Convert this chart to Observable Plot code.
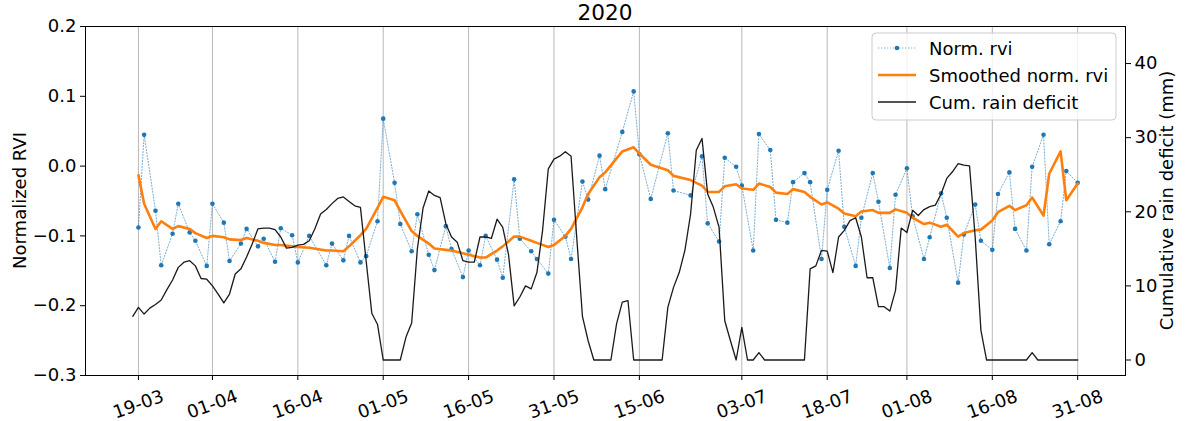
<!DOCTYPE html>
<html><head><meta charset="utf-8">
<script src="https://cdn.jsdelivr.net/npm/d3@7"></script>
<script src="https://cdn.jsdelivr.net/npm/@observablehq/plot@0.6"></script>
<style>body{margin:0;background:#fff;} svg{font-family:"DejaVu Sans",sans-serif;}</style>
</head><body><div id="chart"></div>
<script>
const title = "2020";
const yLabel = "Normalized RVI";
const y2Label = "Cumulative rain deficit (mm)";
const seriesNames = ["Norm. rvi", "Smoothed norm. rvi", "Cum. rain deficit"];
const seriesColors = ["#1f77b4", "#ff7f0e", "#1a1a1a"];

const rviDates = [
"2020-03-19","2020-03-20","2020-03-22","2020-03-23","2020-03-25","2020-03-26","2020-03-28","2020-03-29","2020-03-31","2020-04-01",
"2020-04-03","2020-04-04","2020-04-06","2020-04-07","2020-04-09","2020-04-10","2020-04-12","2020-04-13","2020-04-15","2020-04-16",
"2020-04-18","2020-04-21","2020-04-22","2020-04-24","2020-04-25","2020-04-27","2020-04-28","2020-04-30","2020-05-01","2020-05-03",
"2020-05-04","2020-05-06","2020-05-07","2020-05-09","2020-05-10","2020-05-12","2020-05-13","2020-05-15","2020-05-16","2020-05-18",
"2020-05-19","2020-05-21","2020-05-22","2020-05-24","2020-05-25","2020-05-27","2020-05-28","2020-05-30","2020-05-31","2020-06-02",
"2020-06-03","2020-06-05","2020-06-06","2020-06-08","2020-06-09","2020-06-12","2020-06-14","2020-06-15","2020-06-17","2020-06-20",
"2020-06-21","2020-06-24","2020-06-26","2020-06-27","2020-06-29","2020-06-30","2020-07-02","2020-07-03","2020-07-05","2020-07-06",
"2020-07-08","2020-07-09","2020-07-11","2020-07-12","2020-07-14","2020-07-15","2020-07-17","2020-07-18","2020-07-20","2020-07-21",
"2020-07-23","2020-07-24","2020-07-26","2020-07-27","2020-07-29","2020-07-30","2020-08-01","2020-08-02","2020-08-04","2020-08-05",
"2020-08-07","2020-08-08","2020-08-10","2020-08-11","2020-08-13","2020-08-14","2020-08-16","2020-08-17","2020-08-19","2020-08-20",
"2020-08-22","2020-08-23","2020-08-25","2020-08-26","2020-08-28","2020-08-29","2020-08-31"];

const rviValues = [
-0.088,0.045,-0.064,-0.142,-0.097,-0.054,-0.095,-0.107,-0.143,-0.054,
-0.081,-0.136,-0.111,-0.090,-0.115,-0.104,-0.137,-0.089,-0.099,-0.138,
-0.100,-0.142,-0.111,-0.135,-0.100,-0.138,-0.129,-0.079,0.068,-0.024,
-0.083,-0.122,-0.069,-0.127,-0.149,-0.086,-0.119,-0.159,-0.121,-0.142,
-0.100,-0.134,-0.160,-0.019,-0.104,-0.122,-0.133,-0.154,-0.077,-0.101,
-0.133,-0.022,-0.048,0.015,-0.033,0.049,0.107,0.017,-0.047,0.047,
-0.035,-0.042,0.014,-0.082,-0.108,0.012,-0.001,-0.028,-0.121,0.046,
0.023,-0.077,-0.081,-0.023,-0.010,-0.023,-0.133,-0.034,0.022,-0.087,
-0.143,-0.074,-0.010,-0.051,-0.146,-0.041,-0.003,-0.072,-0.133,-0.102,
-0.039,-0.074,-0.167,-0.098,-0.055,-0.107,-0.120,-0.040,-0.009,-0.090,
-0.121,-0.001,0.045,-0.112,-0.079,-0.007,-0.024];

const smoothValues = [
-0.013,-0.054,-0.090,-0.079,-0.090,-0.086,-0.090,-0.096,-0.103,-0.100,
-0.102,-0.105,-0.106,-0.103,-0.107,-0.110,-0.113,-0.113,-0.115,-0.116,
-0.117,-0.121,-0.121,-0.122,-0.115,-0.099,-0.090,-0.060,-0.044,-0.049,
-0.064,-0.093,-0.100,-0.111,-0.118,-0.120,-0.121,-0.125,-0.127,-0.131,
-0.131,-0.121,-0.115,-0.101,-0.101,-0.107,-0.110,-0.116,-0.113,-0.100,
-0.090,-0.059,-0.040,-0.016,-0.009,0.021,0.027,0.018,0.002,-0.006,
-0.014,-0.020,-0.028,-0.037,-0.037,-0.029,-0.026,-0.032,-0.034,-0.025,
-0.030,-0.038,-0.040,-0.033,-0.037,-0.044,-0.055,-0.052,-0.061,-0.068,
-0.072,-0.065,-0.063,-0.067,-0.067,-0.062,-0.067,-0.074,-0.083,-0.081,
-0.087,-0.084,-0.101,-0.096,-0.092,-0.091,-0.078,-0.066,-0.057,-0.063,
-0.056,-0.045,-0.071,-0.011,0.021,-0.049,-0.025];

// daily cumulative rain deficit (mm), from 2020-03-18 to 2020-08-31
const rainStart = "2020-03-18";
const rainValues = [
5.9,7.1,6.2,7.0,7.5,8.1,9.5,10.8,12.5,13.2,
13.4,12.7,11.0,10.9,10.0,8.9,7.7,8.9,11.6,12.3,
13.9,15.7,17.7,17.8,17.8,17.6,16.6,15.1,15.2,15.5,
15.6,16.1,17.7,19.7,20.3,21.1,21.8,22.0,21.4,20.8,
20.6,13.4,6.3,4.8,0,0,0,0,3.1,5.0,
15.0,20.5,22.8,22.2,21.9,18.4,16.6,15.9,13.4,13.2,
13.2,16.6,16.6,16.4,19.0,17.9,14.3,7.3,8.5,10.0,
9.6,11.8,17.5,25.8,27.1,27.5,28.1,27.5,16.5,5.9,
2.6,0,0,0,0,4.9,7.8,8.0,0,0,
0,0,0,0,7.1,9.8,11.8,14.8,19.7,28.3,
29.9,22.4,20.6,17.9,5.3,2.6,0,4.4,0,0,
1.0,0,0,0,0,0,0,0,0,12.3,
12.7,14.8,14.7,11.8,16.6,17.5,18.8,19.2,16.6,11.1,
11.1,7.2,7.2,6.6,9.4,17.8,17.2,20.2,19.5,20.3,
20.7,20.9,22.4,24.5,25.4,26.5,26.3,26.2,16.5,4.0,
0,0,0,0,0,0,0,0,1.0,0,
0,0,0,0,0,0,0];

const tickDates = ["2020-03-19","2020-04-01","2020-04-16","2020-05-01","2020-05-16","2020-05-31",
                   "2020-06-15","2020-07-03","2020-07-18","2020-08-01","2020-08-16","2020-08-31"];
const leftTicks = [-0.3, -0.2, -0.1, 0.0, 0.1, 0.2];
const rainTicks = [0, 10, 20, 30, 40];

const parse = d3.utcParse("%Y-%m-%d");
const rvi = rviDates.map((d, i) => ({date: parse(d), value: rviValues[i], smooth: smoothValues[i]}));
const rain = rainValues.map((v, i) => ({date: d3.utcDay.offset(parse(rainStart), i), mm: v}));
const ticks = tickDates.map(parse);
const base = parse("2020-03-19");
const DAY = 864e5;
const xDomain = [new Date(+base - 9.3 * DAY), new Date(+base + 173.4 * DAY)];
const rainToY = d3.scaleLinear().domain([-2.09, 45.0]).range([-0.3, 0.2]);

const W = 1185, H = 421, ML = 85, MR = 60, MT = 26, MB = 46;
const chart = Plot.plot({
  width: W, height: H, marginLeft: ML, marginRight: MR, marginTop: MT, marginBottom: MB,
  style: {fontFamily: "DejaVu Sans, sans-serif", fontSize: "18px", background: "white", color: "black", overflow: "visible"},
  x: {type: "utc", domain: xDomain},
  y: {domain: [-0.3, 0.2]},
  marks: [
    Plot.gridX(ticks, {stroke: "#b8b8b8", strokeOpacity: 1, strokeWidth: 1}),
    Plot.lineY(rvi, {x: "date", y: "value", stroke: seriesColors[0], strokeWidth: 1, strokeDasharray: "1.2,1.8", strokeOpacity: 0.6}),
    Plot.dot(rvi, {x: "date", y: "value", r: 2.3, fill: seriesColors[0], stroke: null}),
    Plot.lineY(rvi, {x: "date", y: "smooth", stroke: seriesColors[1], strokeWidth: 2.6}),
    Plot.lineY(rain, {x: "date", y: d => rainToY(d.mm), stroke: seriesColors[2], strokeWidth: 1.3}),
    Plot.axisY(leftTicks, {anchor: "left", tickSize: 5, tickPadding: 4, tickFormat: d3.format(".1f"), label: null}),
    Plot.axisY(rainTicks, {anchor: "right", y: d => rainToY(d), tickSize: 5, tickPadding: 4, tickFormat: d => String(d), label: null}),
    Plot.axisX(ticks, {tickSize: 5, tickFormat: d3.utcFormat("%d-%m"), tickRotate: -20, textAnchor: "middle", lineAnchor: "middle", tickPadding: 24, label: null}),
    Plot.frame({stroke: "black", strokeWidth: 1})
  ]
});
document.getElementById("chart").appendChild(chart);

const svg = d3.select(chart);
svg.append("text").attr("x", (ML + W - MR) / 2).attr("y", 20).attr("text-anchor", "middle")
  .style("font-size", "21.6px").attr("fill", "black").text(title);
const cy = (MT + H - MB) / 2;
svg.append("text").attr("transform", `translate(19,${cy}) rotate(-90)`).attr("text-anchor", "middle")
  .attr("dominant-baseline", "central").style("font-size", "18px").attr("fill", "black").text(yLabel);
svg.append("text").attr("transform", `translate(1166,${cy}) rotate(-90)`).attr("text-anchor", "middle")
  .attr("dominant-baseline", "central").style("font-size", "18px").attr("fill", "black").text(y2Label);

// legend
const lg = svg.append("g").style("font-size", "18px").attr("text-anchor", "start");
lg.append("rect").attr("x", 872).attr("y", 33).attr("width", 244).attr("height", 87).attr("rx", 4)
  .attr("fill", "white").attr("fill-opacity", 0.8).attr("stroke", "#cccccc");
const rowsY = [48, 75, 102];
seriesNames.forEach((name, i) => {
  const y = rowsY[i];
  const ln = lg.append("line").attr("x1", 878).attr("x2", 916).attr("y1", y).attr("y2", y)
    .attr("stroke", seriesColors[i]);
  if (i === 0) {
    ln.attr("stroke-width", 1).attr("stroke-dasharray", "1.2,1.8").attr("stroke-opacity", 0.6);
    lg.append("circle").attr("cx", 897).attr("cy", y).attr("r", 2.3).attr("fill", seriesColors[0]);
  } else if (i === 1) {
    ln.attr("stroke-width", 2.6);
  } else {
    ln.attr("stroke-width", 1.3);
  }
  lg.append("text").attr("x", 929).attr("y", y).attr("dominant-baseline", "central")
    .attr("text-anchor", "start").attr("fill", "black").text(name);
});
</script>
</body></html>
